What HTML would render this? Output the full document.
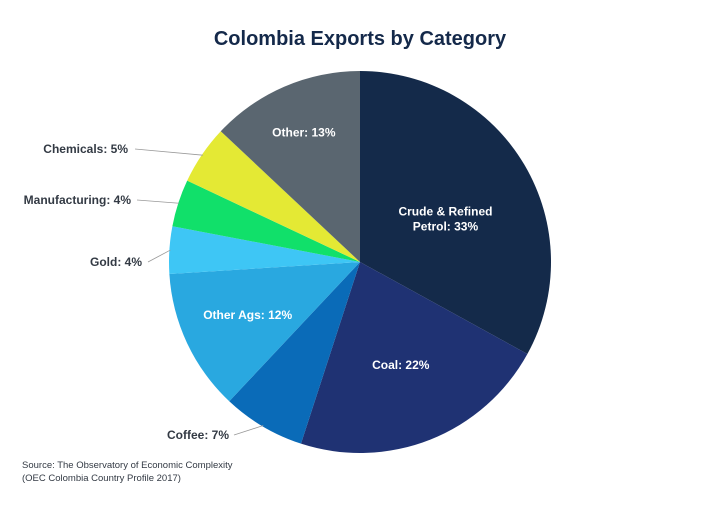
<!DOCTYPE html>
<html><head><meta charset="utf-8"><style>
body{margin:0;background:#fff;}
svg text{font-family:"Liberation Sans",sans-serif;}
</style></head><body>
<svg width="720" height="500" viewBox="0 0 720 500">
<text x="360" y="45" text-anchor="middle" font-size="20" font-weight="bold" fill="#14294a">Colombia Exports by Category</text>
<g id="slices"></g>
<g id="labels"></g>
<text x="22" y="468" font-size="9.5" fill="#333a44">Source: The Observatory of Economic Complexity</text>
<text x="22" y="481" font-size="9.5" fill="#333a44">(OEC Colombia Country Profile 2017)</text>
</svg>
<script>
const categories=["Crude & Refined Petrol","Coal","Coffee","Other Ags","Gold","Manufacturing","Chemicals","Other"];
const values=[33,22,7,12,4,4,5,13];
const colors=["#142a4a","#1f3273","#0a6bb8","#29a8e0","#3ec6f5","#11e06a","#e4e934","#5a6670"];
const inside=[true,true,false,true,false,false,false,true];
const labelR=[0.52,0.58,0,0.65,0,0,0,0.74];
const cx=360,cy=262,r=191;
const NS="http://www.w3.org/2000/svg";
const total=values.reduce((a,b)=>a+b,0);
const sl=document.getElementById('slices'),lb=document.getElementById('labels');
function pt(a,rr){return [cx+rr*Math.sin(a),cy-rr*Math.cos(a)];}
let acc=0;
values.forEach((v,i)=>{
 const a0=acc/total*2*Math.PI;acc+=v;const a1=acc/total*2*Math.PI;
 const p0=pt(a0,r),p1=pt(a1,r);
 const p=document.createElementNS(NS,'path');
 p.setAttribute('d',`M${cx},${cy}L${p0[0]},${p0[1]}A${r},${r} 0 ${a1-a0>Math.PI?1:0} 1 ${p1[0]},${p1[1]}Z`);
 p.setAttribute('fill',colors[i]);
 
 
 sl.appendChild(p);
 const am=(a0+a1)/2;
 const label=categories[i]+": "+v+"%";
 if(inside[i]){
  const c=pt(am,r*labelR[i]);
  const t=document.createElementNS(NS,'text');
  t.setAttribute('text-anchor','middle');t.setAttribute('font-size','12');t.setAttribute('font-weight','bold');t.setAttribute('fill','#fff');
  
  
  if(label.length>18){
   const w=label.split(' ');
   const l1=w.slice(0,3).join(' '),l2=w.slice(3).join(' ');
   [l1,l2].forEach((s,k)=>{const ts=document.createElementNS(NS,'tspan');ts.setAttribute('x',c[0]);ts.setAttribute('y',c[1]+4+k*15);ts.textContent=s;t.appendChild(ts);});
  } else {t.setAttribute('x',c[0]);t.setAttribute('y',c[1]+4);t.textContent=label;}
  lb.appendChild(t);
 } else {
  const e=pt(am,r-1);
  let tx=0,ty=0,lx=0;
  if(categories[i]==="Coffee"){tx=229;ty=439;lx=234;}
  if(categories[i]==="Gold"){tx=142;ty=266;lx=148;}
  if(categories[i]==="Manufacturing"){tx=131;ty=204;lx=137;}
  if(categories[i]==="Chemicals"){tx=128;ty=153;lx=135;}
  const l=document.createElementNS(NS,'line');
  l.setAttribute('x1',lx);l.setAttribute('y1',ty-4);l.setAttribute('x2',e[0]);l.setAttribute('y2',e[1]);
  l.setAttribute('stroke','#999');l.setAttribute('stroke-width','0.8');
  
  
  lb.appendChild(l);
  const t=document.createElementNS(NS,'text');
  t.setAttribute('x',tx);t.setAttribute('y',ty);t.setAttribute('text-anchor','end');
  t.setAttribute('font-size','12');t.setAttribute('font-weight','bold');t.setAttribute('fill','#333a44');
  
  
  t.textContent=label;lb.appendChild(t);
 }
});
</script>
</body></html>
